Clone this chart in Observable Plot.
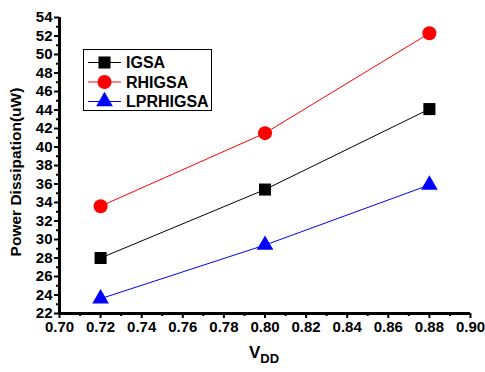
<!DOCTYPE html>
<html><head><meta charset="utf-8">
<script src="https://cdn.jsdelivr.net/npm/d3@7"></script>
<script src="https://cdn.jsdelivr.net/npm/@observablehq/plot@0.6"></script>
<style>
body{margin:0;background:#fff;font-family:"Liberation Sans",Arial,sans-serif}
#wrap{position:relative;width:485px;height:372px;overflow:hidden}
#wrap > svg text{font-weight:bold !important;font-size:15px !important;font-family:"Liberation Sans",Arial,sans-serif !important;font-variant:normal !important}
#ylab{position:absolute;left:16px;top:172px;transform:translate(-50%,-50%) rotate(-90deg);font-weight:bold;font-size:15.5px;white-space:nowrap}
#xlab{position:absolute;left:264px;top:354px;transform:translate(-50%,-50%);font-weight:bold;font-size:17px;white-space:nowrap}
#xlab sub{font-size:13px;vertical-align:-5px}
#legend{position:absolute;left:83px;top:49px;width:127px;height:60px;border:1px solid #000;background:#fff}
</style>
</head><body><div id="wrap"></div>
<script>
const vdd = [0.72, 0.80, 0.88];
const igsa = [28.0, 35.4, 44.1];
const rhigsa = [33.6, 41.5, 52.3];
const lprhigsa = [23.6, 29.4, 35.9];
const seriesNames = ["IGSA", "RHIGSA", "LPRHIGSA"];
const seriesColors = ["#000000", "#ff0000", "#0000ff"];
const seriesSymbols = ["square", "circle", "triangle"];
const seriesR = [6.8, 7, 6.2];
const xTicks = [0.70, 0.72, 0.74, 0.76, 0.78, 0.80, 0.82, 0.84, 0.86, 0.88, 0.90];
const xMinor = [0.71, 0.73, 0.75, 0.77, 0.79, 0.81, 0.83, 0.85, 0.87, 0.89];
const yTicks = [22, 24, 26, 28, 30, 32, 34, 36, 38, 40, 42, 44, 46, 48, 50, 52, 54];
const yMinor = [23, 25, 27, 29, 31, 33, 35, 37, 39, 41, 43, 45, 47, 49, 51, 53];

const values = [igsa, rhigsa, lprhigsa];
const rows = [];
seriesNames.forEach((s, i) => vdd.forEach((x, j) => rows.push({series: s, x, y: values[i][j], idx: i})));

const wrap = document.getElementById("wrap");
const chart = Plot.plot({
  width: 485, height: 372,
  marginLeft: 59, marginRight: 15, marginTop: 17, marginBottom: 59,
  x: {domain: [0.70, 0.90]},
  y: {domain: [22, 54]},
  style: {fontFamily: "'Liberation Sans', Arial, sans-serif", fontSize: "15px", fontWeight: "bold", color: "#000", background: "#fff"},
  marks: [
    Plot.axisX({ticks: xTicks, tickFormat: d => d.toFixed(2), tickSize: 5, tickPadding: 3, strokeWidth: 2, label: null, fontSize: 15, fontWeight: "bold"}),
    Plot.axisX({ticks: xMinor, tickFormat: () => "", tickSize: 3, strokeWidth: 2, label: null}),
    Plot.axisY({ticks: yTicks, tickSize: 5, tickPadding: 2, strokeWidth: 2, label: null, fontSize: 15, fontWeight: "bold"}),
    Plot.axisY({ticks: yMinor, tickFormat: () => "", tickSize: 3, strokeWidth: 2, label: null}),
    Plot.ruleX([0.70], {strokeWidth: 3}),
    Plot.ruleY([22], {strokeWidth: 3}),
    ...seriesNames.map((s, i) => Plot.line(rows.filter(r => r.series === s), {x: "x", y: "y", stroke: seriesColors[i], strokeWidth: 1})),
    ...seriesNames.map((s, i) => Plot.dot(rows.filter(r => r.series === s), {x: "x", y: "y", fill: seriesColors[i], stroke: "none", symbol: seriesSymbols[i], r: seriesR[i]}))
  ]
});
wrap.appendChild(chart);

const ylab = document.createElement("div");
ylab.id = "ylab"; ylab.textContent = "Power Dissipation(uW)";
wrap.appendChild(ylab);
const xlab = document.createElement("div");
xlab.id = "xlab"; xlab.innerHTML = "V<sub>DD</sub>";
wrap.appendChild(xlab);

const legend = document.createElement("div");
legend.id = "legend";
const ns = "http://www.w3.org/2000/svg";
const lsvg = document.createElementNS(ns, "svg");
lsvg.setAttribute("width", 127); lsvg.setAttribute("height", 60);
seriesNames.forEach((s, i) => {
  const cy = 12.5 + i * 19.5;
  const line = document.createElementNS(ns, "line");
  line.setAttribute("x1", 4); line.setAttribute("x2", 37);
  line.setAttribute("y1", cy); line.setAttribute("y2", cy);
  line.setAttribute("stroke", seriesColors[i]); line.setAttribute("stroke-width", 1);
  lsvg.appendChild(line);
  const sym = {square: d3.symbolSquare, circle: d3.symbolCircle, triangle: d3.symbolTriangle}[seriesSymbols[i]];
  const p = document.createElementNS(ns, "path");
  p.setAttribute("d", d3.symbol(sym, Math.PI * seriesR[i] * seriesR[i])());
  p.setAttribute("transform", `translate(20.5,${cy})`);
  p.setAttribute("fill", seriesColors[i]);
  lsvg.appendChild(p);
  const t = document.createElementNS(ns, "text");
  t.setAttribute("x", 42); t.setAttribute("y", cy);
  t.setAttribute("dy", "0.36em");
  t.setAttribute("font-size", 16); t.setAttribute("font-weight", "bold");
  t.setAttribute("font-family", "'Liberation Sans', Arial, sans-serif");
  t.textContent = s;
  lsvg.appendChild(t);
});
legend.appendChild(lsvg);
wrap.appendChild(legend);
</script>
</body></html>
